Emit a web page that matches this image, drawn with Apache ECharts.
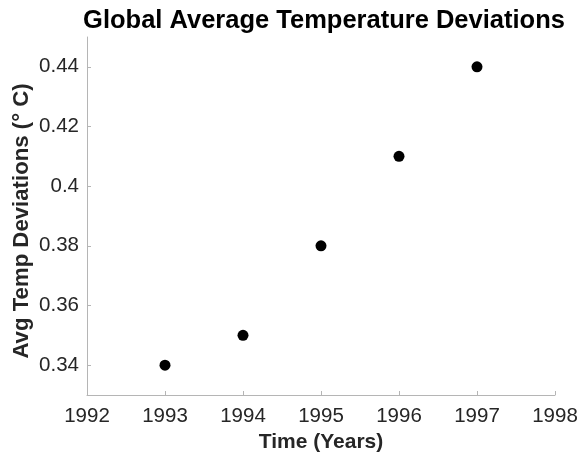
<!DOCTYPE html>
<html><head><meta charset="utf-8">
<script src="https://cdn.jsdelivr.net/npm/echarts@6/dist/echarts.min.js"></script>
<style>html,body{margin:0;padding:0;background:#fff}#c{width:586px;height:456px}</style>
</head><body><div id="c"></div>
<script>
var years = [1993, 1994, 1995, 1996, 1997];
var deviations = [0.34, 0.35, 0.38, 0.41, 0.44];
var yTicks = [0.34, 0.36, 0.38, 0.40, 0.42, 0.44];
var xTicks = [1992, 1993, 1994, 1995, 1996, 1997, 1998];

var chart = echarts.init(document.getElementById('c'), null, {renderer: 'canvas'});
var font = 'Liberation Sans, Arial, Helvetica, sans-serif';
chart.setOption({
  animation: false,
  backgroundColor: '#fff',
  title: {
    text: 'Global Average Temperature Deviations',
    left: 319, top: 3, textAlign: 'center',
    textStyle: {fontFamily: font, fontSize: 25.5, fontWeight: 'bold', color: '#000'}
  },
  grid: {left: 87, right: 31, top: 37, bottom: 61, containLabel: false, outerBoundsMode: 'none'},
  xAxis: {
    type: 'value', min: 1992, max: 1998, interval: 1,
    name: 'Time (Years)', nameLocation: 'middle', nameGap: 37, nameMoveOverlap: false,
    nameTextStyle: {fontFamily: font, fontSize: 21, fontWeight: 'bold', color: '#262626'},
    axisLine: {show: true, lineStyle: {color: '#b5b5b5', width: 1}},
    axisTick: {show: true, inside: true, length: 4, lineStyle: {color: '#b5b5b5'}, customValues: xTicks},
    axisLabel: {fontFamily: font, fontSize: 20.5, color: '#262626', margin: 11, customValues: xTicks,
      formatter: function (v) { return String(v); }},
    splitLine: {show: false}
  },
  yAxis: {
    type: 'value', min: 0.33, max: 0.45,
    name: 'Avg Temp Deviations (\u00b0 C)', nameLocation: 'middle', nameGap: 54, nameRotate: 90, nameMoveOverlap: false,
    nameTextStyle: {fontFamily: font, fontSize: 22.2, fontWeight: 'bold', color: '#262626', padding: [0, 10, 0, 0]},
    axisLine: {show: true, lineStyle: {color: '#b5b5b5', width: 1}},
    axisTick: {show: true, inside: true, length: 4, lineStyle: {color: '#b5b5b5'}, customValues: yTicks},
    axisLabel: {fontFamily: font, fontSize: 20.5, color: '#262626', margin: 8, customValues: yTicks,
      formatter: function (v) { return String(parseFloat(v.toFixed(2))); }},
    splitLine: {show: false}
  },
  series: [{
    type: 'scatter',
    data: years.map(function (y, i) { return [y, deviations[i]]; }),
    symbol: 'circle', symbolSize: 11,
    itemStyle: {color: '#000', opacity: 1}
  }]
});
</script></body></html>
